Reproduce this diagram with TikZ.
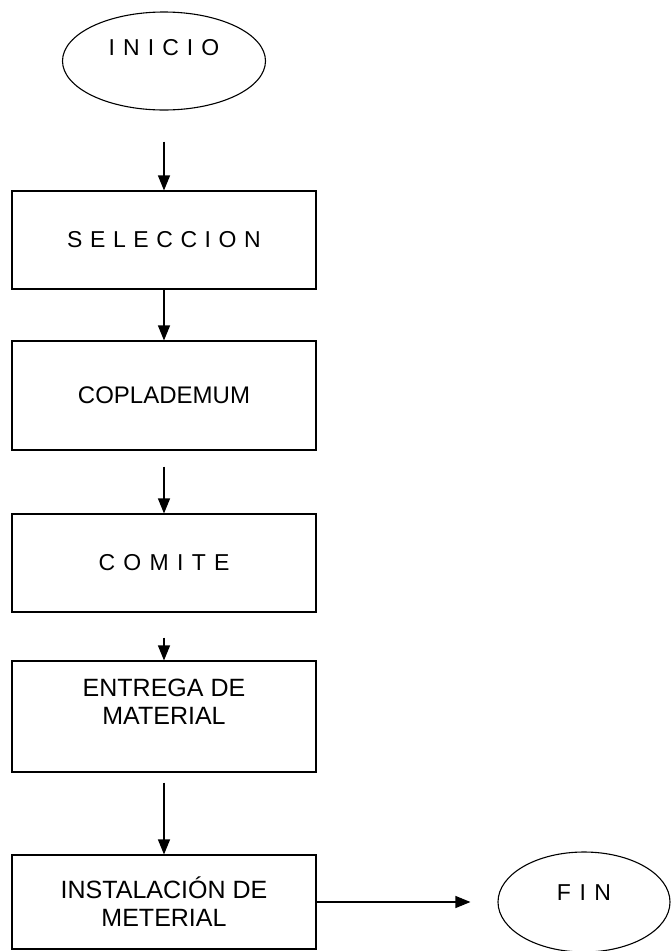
\documentclass[tikz,border=0pt]{standalone}
\usepackage{fontspec}
\setmainfont{Liberation Sans}
\usetikzlibrary{shapes.geometric,arrows.meta,positioning}

\newcommand{\espaciado}[2]{{\addfontfeature{LetterSpace=#1}#2}}

\tikzstyle{proceso} = [rectangle, minimum width=304pt, align=center, draw=black, line width=1.1pt, inner sep=0pt]
\tikzstyle{terminal} = [ellipse, draw=black, line width=1.1pt, inner sep=0pt]
\tikzstyle{arrow} = [line width=1.1pt,->,>={Triangle[length=15pt,width=12pt]}]

\begin{document}
\begin{tikzpicture}
        \useasboundingbox (0,0) rectangle (671pt,-951pt);

            \node (inicio) [terminal, minimum width=203pt, minimum height=98pt,
                label={[yshift=13pt, font=\fontsize{23}{27}\selectfont]center:\espaciado{35}{INICIO}}] at (164pt,-61pt) {};
            \node (sel) [proceso, minimum height=98pt, below of=inicio, node distance=179pt,
                font=\fontsize{23}{27}\selectfont] {\espaciado{33}{SELECCION}};
            \node (copla) [proceso, minimum height=109pt, below of=sel, node distance=155.5pt,
                font=\fontsize{24}{28}\selectfont] {COPLADEMUM};
            \node (comite) [proceso, minimum height=98pt, below of=copla, node distance=167.5pt,
                font=\fontsize{23}{27}\selectfont] {\espaciado{36}{COMITE}};
            \node (entrega) [proceso, minimum height=111pt, below of=comite, node distance=153.5pt,
                label={[yshift=14.5pt, align=center, font=\fontsize{25}{28}\selectfont]center:ENTREGA DE\\MATERIAL}] {};
            \node (instal) [proceso, minimum height=94pt, below of=entrega, node distance=185.5pt,
                font=\fontsize{25}{28}\selectfont] {INSTALACIÓN DE\\METERIAL};
            \node (fin) [terminal, minimum width=172pt, minimum height=100pt, right of=instal, node distance=420pt,
                label={[yshift=9pt, font=\fontsize{23}{27}\selectfont]center:\espaciado{37}{FIN}}] {};

            \draw [arrow, shorten <=31pt] (inicio) -- (sel);
            \draw [arrow] (sel) -- (copla);
            \draw [arrow, shorten <=16pt] (copla) -- (comite);
            \draw [arrow, shorten <=25pt] (comite) -- (entrega);
            \draw [arrow, shorten <=10pt] (entrega) -- (instal);
            \draw [arrow, shorten >=27pt] (instal) -- (fin);

\end{tikzpicture}
\end{document}
